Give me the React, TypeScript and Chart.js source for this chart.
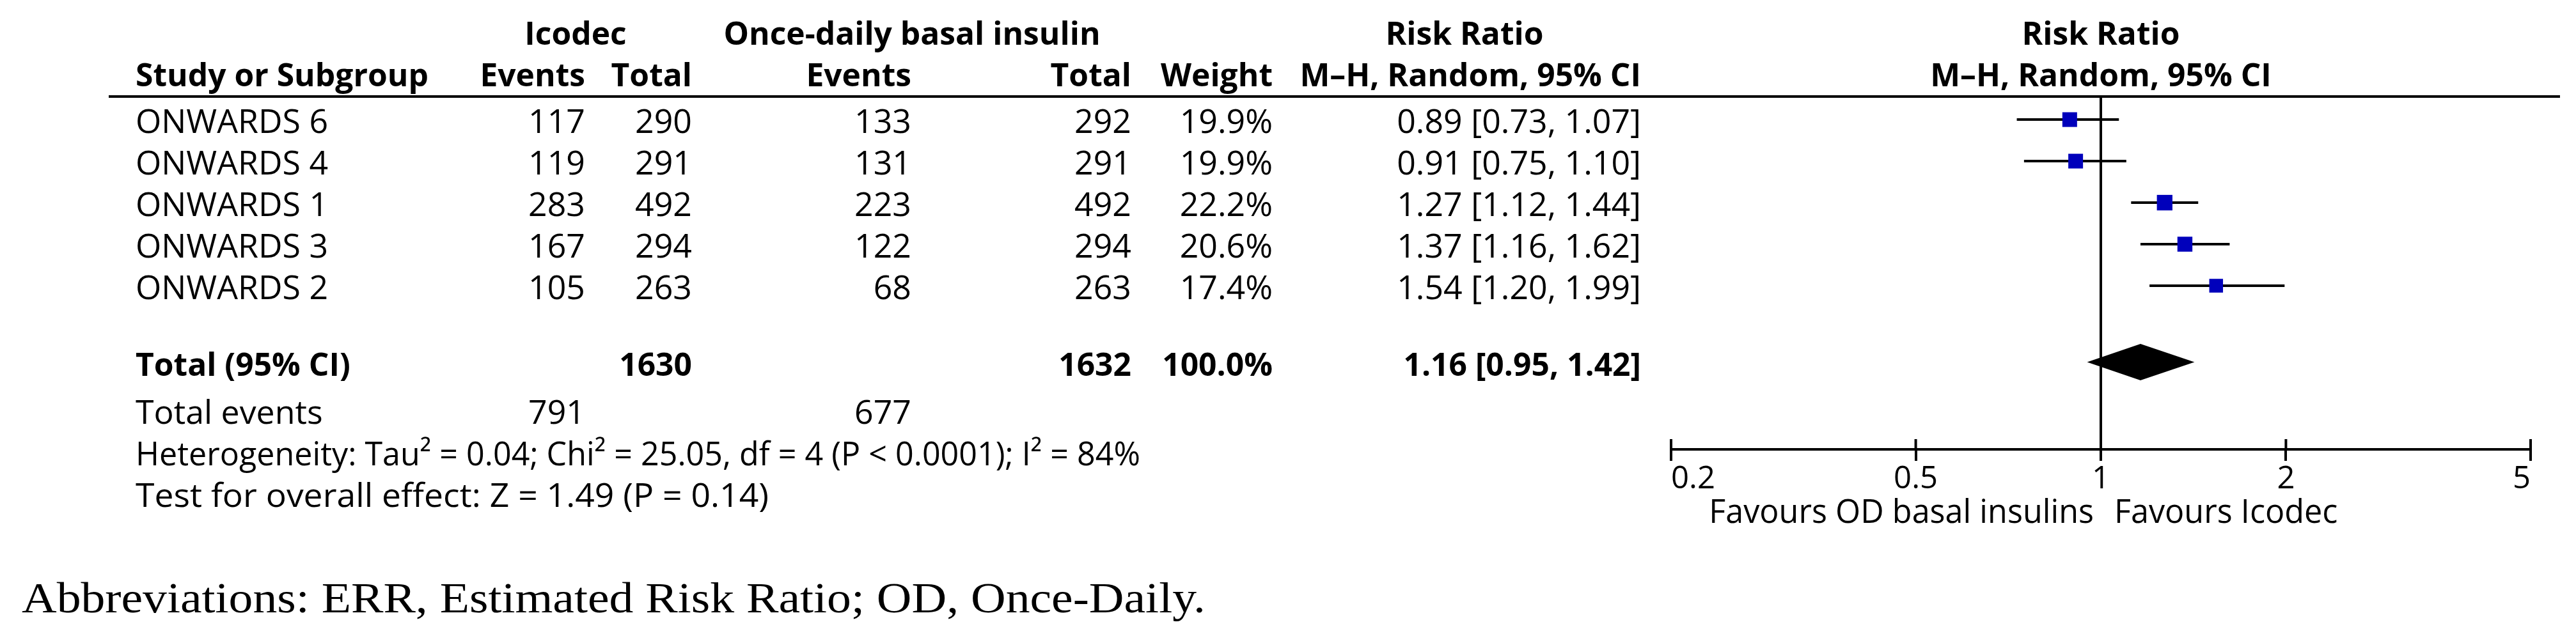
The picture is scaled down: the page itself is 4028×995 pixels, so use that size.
import { useEffect, useRef } from 'react';
import { Chart, registerables } from 'chart.js';

Chart.register(...registerables);

// ---------- data ----------
const studies = ['ONWARDS 6', 'ONWARDS 4', 'ONWARDS 1', 'ONWARDS 3', 'ONWARDS 2'];
const icodecEvents = [117, 119, 283, 167, 105];
const icodecTotal = [290, 291, 492, 294, 263];
const odEvents = [133, 131, 223, 122, 68];
const odTotal = [292, 291, 492, 294, 263];
const weights = [19.9, 19.9, 22.2, 20.6, 17.4];
const riskRatio = [0.89, 0.91, 1.27, 1.37, 1.54];
const ciLower = [0.73, 0.75, 1.12, 1.16, 1.2];
const ciUpper = [1.07, 1.1, 1.44, 1.62, 1.99];
const pooled = [1.16, 0.95, 1.42]; // estimate, lower, upper
const totals = [1630, 1632]; // Icodec, OD
const totalEvents = [791, 677];
const totalWeight = 100.0;
const axisTicks = [0.2, 0.5, 1, 2, 5];
const favoursLabels = ['Favours OD basal insulins', 'Favours Icodec'];
const heterogeneityText = 'Heterogeneity: Tau\u00B2 = 0.04; Chi\u00B2 = 25.05, df = 4 (P < 0.0001); I\u00B2 = 84%';
const overallEffectText = 'Test for overall effect: Z = 1.49 (P = 0.14)';
const abbreviationsText = 'Abbreviations: ERR, Estimated Risk Ratio; OD, Once-Daily.';

// ---------- layout ----------
const W = 4028;
const H = 995;
const SANS = '"Open Sans", "DejaVu Sans", sans-serif';
const SERIF = '"Liberation Serif", "DejaVu Serif", serif';
const col = { study: 212, icE: 915, icT: 1082, odE: 1425, odT: 1769, w: 1990, ci: 2566 };
const totalRow = 5.9;

const fmtCI = (r: number, l: number, u: number) => `${r.toFixed(2)} [${l.toFixed(2)}, ${u.toFixed(2)}]`;

function fitSize(text: string, bold: boolean, target: number, family = SANS) {
  const c = document.createElement('canvas').getContext('2d')!;
  c.font = `${bold ? 'bold ' : ''}100px ${family}`;
  return (100 * target) / c.measureText(text).width;
}

const sizes = { reg: 50, bold: 50, fav: 48, tick: 48 };

function txt(ctx: CanvasRenderingContext2D, s: string, x: number, y: number, align: CanvasTextAlign, bold = false, size?: number) {
  const fs = size ?? (bold ? sizes.bold : sizes.reg);
  ctx.font = `${bold ? 'bold ' : ''}${fs}px ${SANS}`;
  ctx.textAlign = align;
  ctx.textBaseline = 'alphabetic';
  ctx.fillStyle = '#000';
  ctx.fillText(s, x, y);
}

// left-aligned text stretched to a given width
function txtFit(ctx: CanvasRenderingContext2D, s: string, x: number, y: number, width: number, font: string) {
  ctx.save();
  ctx.font = font;
  ctx.textAlign = 'left';
  ctx.textBaseline = 'alphabetic';
  ctx.fillStyle = '#000';
  const mw = ctx.measureText(s).width;
  ctx.translate(x, y);
  ctx.scale(width / mw, 1);
  ctx.fillText(s, 0, 0);
  ctx.restore();
}

const forestPlugin = {
  id: 'forestTable',
  beforeDatasetsDraw(chart: any) {
    const { ctx, chartArea, scales } = chart;
    const x1 = scales.x.getPixelForValue(1);
    ctx.save();
    ctx.strokeStyle = '#000';
    ctx.lineWidth = 4;
    ctx.beginPath();
    ctx.moveTo(x1, chartArea.top);
    ctx.lineTo(x1, chartArea.bottom);
    ctx.stroke();
    ctx.restore();
  },
  afterDraw(chart: any) {
    const { ctx, chartArea, scales } = chart;
    const xs = scales.x;
    const ys = scales.y;
    const base = (r: number) => ys.getPixelForValue(r) + 21;
    const mid = (chartArea.left + chartArea.right) / 2;
    ctx.save();

    // header rows
    const h1 = base(-2.12);
    const h2 = base(-1.12);
    txt(ctx, 'Icodec', 900, h1, 'center', true);
    txt(ctx, 'Once-daily basal insulin', 1426, h1, 'center', true);
    txt(ctx, 'Risk Ratio', 2290, h1, 'center', true);
    txt(ctx, 'Risk Ratio', mid, h1, 'center', true);
    txt(ctx, 'Study or Subgroup', col.study, h2, 'left', true);
    txt(ctx, 'Events', col.icE, h2, 'right', true);
    txt(ctx, 'Total', col.icT, h2, 'right', true);
    txt(ctx, 'Events', col.odE, h2, 'right', true);
    txt(ctx, 'Total', col.odT, h2, 'right', true);
    txt(ctx, 'Weight', col.w, h2, 'right', true);
    txt(ctx, 'M\u2013H, Random, 95% CI', col.ci, h2, 'right', true);
    txt(ctx, 'M\u2013H, Random, 95% CI', mid, h2, 'center', true);

    // header rule
    ctx.strokeStyle = '#000';
    ctx.lineWidth = 4;
    ctx.beginPath();
    ctx.moveTo(170, chartArea.top - 1);
    ctx.lineTo(4003, chartArea.top - 1);
    ctx.stroke();

    // study rows
    studies.forEach((s, i) => {
      const y = base(i);
      txt(ctx, s, col.study, y, 'left');
      txt(ctx, String(icodecEvents[i]), col.icE, y, 'right');
      txt(ctx, String(icodecTotal[i]), col.icT, y, 'right');
      txt(ctx, String(odEvents[i]), col.odE, y, 'right');
      txt(ctx, String(odTotal[i]), col.odT, y, 'right');
      txt(ctx, weights[i].toFixed(1) + '%', col.w, y, 'right');
      txt(ctx, fmtCI(riskRatio[i], ciLower[i], ciUpper[i]), col.ci, y, 'right');
    });

    // total row
    const yt = ys.getPixelForValue(totalRow) + 18;
    txt(ctx, 'Total (95% CI)', col.study, yt, 'left', true);
    txt(ctx, String(totals[0]), col.icT, yt, 'right', true);
    txt(ctx, String(totals[1]), col.odT, yt, 'right', true);
    txt(ctx, totalWeight.toFixed(1) + '%', col.w, yt, 'right', true);
    txt(ctx, fmtCI(pooled[0], pooled[1], pooled[2]), col.ci, yt, 'right', true);

    // total events & stats
    txt(ctx, 'Total events', col.study, base(7), 'left');
    txt(ctx, String(totalEvents[0]), col.icE, base(7), 'right');
    txt(ctx, String(totalEvents[1]), col.odE, base(7), 'right');
    const regFont = `${sizes.reg}px ${SANS}`;
    txtFit(ctx, heterogeneityText, col.study, base(8), 1571, regFont);
    txtFit(ctx, overallEffectText, col.study, base(9), 990, regFont);

    // pooled diamond
    const dy = ys.getPixelForValue(totalRow) - 4;
    const dh = 28.5;
    ctx.fillStyle = '#000';
    ctx.beginPath();
    ctx.moveTo(xs.getPixelForValue(pooled[1]), dy);
    ctx.lineTo(xs.getPixelForValue(pooled[0]), dy - dh);
    ctx.lineTo(xs.getPixelForValue(pooled[2]), dy);
    ctx.lineTo(xs.getPixelForValue(pooled[0]), dy + dh);
    ctx.closePath();
    ctx.fill();

    // upper halves of axis ticks
    ctx.lineWidth = 4;
    axisTicks.forEach((v) => {
      const x = xs.getPixelForValue(v);
      ctx.beginPath();
      ctx.moveTo(x, chartArea.bottom - 16);
      ctx.lineTo(x, chartArea.bottom);
      ctx.stroke();
    });

    // favours labels
    const x1 = xs.getPixelForValue(1);
    txt(ctx, favoursLabels[0], x1 - 11, 818, 'right', false, sizes.fav);
    txt(ctx, favoursLabels[1], x1 + 21, 818, 'left', false, sizes.fav);

    // caption
    txtFit(ctx, abbreviationsText, 34, 958, 1851, `68px ${SERIF}`);
    ctx.restore();
  },
};

export default function App() {
  const ref = useRef<HTMLCanvasElement>(null);
  useEffect(() => {
    document.body.style.margin = '0';
    sizes.reg = (fitSize(overallEffectText, false, 990) + fitSize(heterogeneityText, false, 1571)) / 2;
    sizes.bold = fitSize('Study or Subgroup', true, 458);
    sizes.fav = fitSize(favoursLabels[0], false, 602);
    sizes.tick = fitSize('0.2', false, 69);
    const canvas = ref.current!;
    const lineData: any[] = [];
    studies.forEach((_, i) => {
      lineData.push({ x: ciLower[i], y: i }, { x: ciUpper[i], y: i }, { x: ciUpper[i], y: null });
    });
    const radius = weights.map((w) => (5.16 * Math.sqrt(w)) / Math.SQRT2);
    const chart = new Chart(canvas, {
      type: 'scatter',
      data: {
        datasets: [
          {
            label: 'Risk ratio',
            data: riskRatio.map((v, i) => ({ x: v, y: i })),
            pointStyle: 'rect',
            pointRadius: radius,
            pointHoverRadius: radius,
            backgroundColor: '#0000BB',
            borderWidth: 0,
            order: 0,
          } as any,
          {
            type: 'line',
            label: '95% CI',
            data: lineData,
            borderColor: '#000',
            borderWidth: 4,
            pointRadius: 0,
            showLine: true,
            spanGaps: false,
            borderCapStyle: 'butt',
            order: 1,
          } as any,
        ],
      },
      options: {
        animation: false,
        responsive: false,
        devicePixelRatio: 1,
        layout: { padding: { left: 2613, right: 71, top: 152, bottom: 0 } },
        plugins: { legend: { display: false }, tooltip: { enabled: false } },
        scales: {
          x: {
            type: 'logarithmic',
            position: 'bottom',
            min: 0.2,
            max: 5,
            afterBuildTicks: (s: any) => {
              s.ticks = axisTicks.map((v) => ({ value: v }));
            },
            afterFit: (s: any) => {
              s.height = H - 703;
            },
            ticks: {
              callback: (v: any) => String(v),
              autoSkip: false,
              maxRotation: 0,
              align: 'inner',
              padding: 0,
              color: '#000',
              font: { family: SANS, size: sizes.tick },
            },
            grid: { drawOnChartArea: false, drawTicks: true, tickLength: 18, color: '#000', lineWidth: 4 },
            border: { display: true, color: '#000', width: 4 },
          } as any,
          y: {
            type: 'linear',
            min: -0.54,
            max: 7.94,
            reverse: true,
            display: false,
          },
        },
      },
      plugins: [forestPlugin],
    });
    return () => chart.destroy();
  }, []);
  return <canvas ref={ref} width={W} height={H} style={{ display: 'block', width: W, height: H }} />;
}
